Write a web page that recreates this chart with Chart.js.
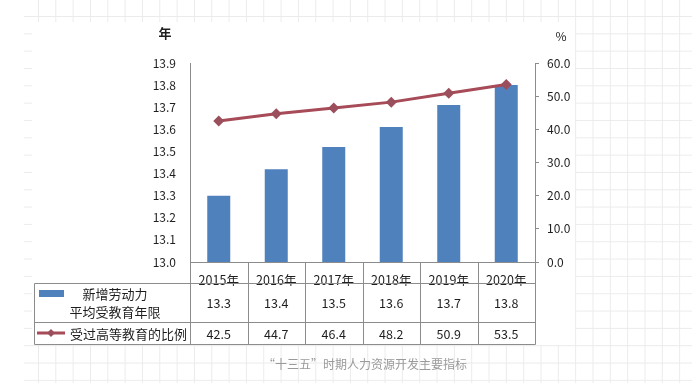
<!DOCTYPE html>
<html><head><meta charset="utf-8">
<script src="https://cdn.jsdelivr.net/npm/chart.js@4.4.0/dist/chart.umd.min.js"></script>
<style>
html,body{margin:0;padding:0;background:#fff;}
#wrap{position:relative;width:692px;height:383px;overflow:hidden;background:#fff;}
#grid{position:absolute;left:24px;top:0;width:668px;height:383px;
 background-image:linear-gradient(to right,#ebebeb 1px,transparent 1px),linear-gradient(to bottom,#ebebeb 1px,transparent 1px);
 background-size:17.333px 17.333px;background-position:14px 16px;}
#paper{position:absolute;left:32px;top:22px;width:543px;height:323px;background:#fff;}
canvas{position:absolute;left:0;top:0;}
#cap{position:absolute;left:263px;top:356px;line-height:16px;font-size:12px;color:#9a9a9a;
 font-family:'Noto Sans CJK SC','Noto Sans',sans-serif;white-space:nowrap;}
</style></head>
<body>
<div id="wrap">
<div id="grid"></div>
<div id="paper"></div>
<canvas id="c" width="692" height="383"></canvas>
<div id="cap"></div>
</div>
<script>
const categories = ['2015年','2016年','2017年','2018年','2019年','2020年'];
// bar heights (table shows them to one decimal)
const eduYears = [13.30, 13.42, 13.52, 13.61, 13.71, 13.80];
const higherEduPct = [42.5, 44.7, 46.4, 48.2, 50.9, 53.5];
const barSeriesName = ['新增劳动力', '平均受教育年限'];
const lineSeriesName = '受过高等教育的比例';
const leftAxis = [13.0, 13.9, 0.1];   // min, max, step
const rightAxis = [0, 60, 10];       // min, max, step
const axisUnits = ['年', '%'];
const captionText = '“十三五”时期人力资源开发主要指标';

document.getElementById('cap').textContent = captionText;

const FONT = "'Noto Sans CJK SC','Noto Sans',sans-serif";
const BAR_COLOR = '#4F81BD';
const LINE_COLOR = '#A64B57';
const MARK_COLOR = '#9B4E5B';
const RULE = '#8c8c8c';
const TXT = '#1e1e1e';

Chart.defaults.font.family = FONT;
Chart.defaults.color = TXT;

function px(v){ return Math.round(v) + 0.5; }

const tablePlugin = {
  id: 'tablePlugin',
  afterDraw(chart) {
    const ctx = chart.ctx, xs = chart.scales.x, ca = chart.chartArea;
    const n = categories.length;
    const cw = xs.getPixelForValue(1) - xs.getPixelForValue(0);
    const x0 = xs.getPixelForValue(0) - cw / 2;
    const left = 34, r0 = ca.bottom, r1 = 283, r2 = 322, r3 = 344;
    ctx.save();
    ctx.strokeStyle = RULE; ctx.lineWidth = 1;
    const ln = (a, b, c, d) => { ctx.beginPath(); ctx.moveTo(a, b); ctx.lineTo(c, d); ctx.stroke(); };
    ln(px(ca.left), px(r0), px(ca.right), px(r0));
    [r1, r2, r3].forEach(r => ln(px(left), px(r), px(ca.right), px(r)));
    for (let i = 0; i <= n; i++) { const bx = px(x0 + i * cw); ln(bx, px(r0), bx, px(r3)); }
    ln(px(left), px(r1), px(left), px(r3));

    // values
    ctx.fillStyle = TXT; ctx.textAlign = 'center'; ctx.textBaseline = 'middle';
    ctx.font = '12.5px ' + FONT;
    for (let i = 0; i < n; i++) {
      const cx = xs.getPixelForValue(i);
      ctx.fillText(eduYears[i].toFixed(1), cx, (r1 + r2) / 2 + 1);
      ctx.fillText(higherEduPct[i].toFixed(1), cx, (r2 + r3) / 2 + 1);
    }
    // legend keys
    ctx.fillStyle = BAR_COLOR;
    ctx.fillRect(39, 290, 25, 7);
    ctx.strokeStyle = LINE_COLOR; ctx.lineWidth = 3;
    ln(37, 333, 65, 333);
    ctx.fillStyle = MARK_COLOR;
    ctx.beginPath(); ctx.moveTo(51, 329); ctx.lineTo(55, 333); ctx.lineTo(51, 337); ctx.lineTo(47, 333); ctx.closePath(); ctx.fill();
    // legend text
    ctx.fillStyle = TXT; ctx.font = '13px ' + FONT;
    ctx.fillText(barSeriesName[0], 115, 294);
    ctx.fillText(barSeriesName[1], 115, 312);
    ctx.textAlign = 'left';
    ctx.fillText(lineSeriesName, 70, 334);
    // units
    ctx.textAlign = 'center';
    ctx.font = 'bold 13px ' + FONT;
    ctx.fillText(axisUnits[0], 165, 33);
    ctx.font = '12px ' + FONT;
    ctx.fillText(axisUnits[1], 561, 36);
    ctx.restore();
  }
};

new Chart(document.getElementById('c'), {
  data: {
    labels: categories,
    datasets: [
      {
        type: 'line', label: lineSeriesName, data: higherEduPct, yAxisID: 'y1',
        borderColor: LINE_COLOR, borderWidth: 3, backgroundColor: MARK_COLOR,
        pointStyle: 'rectRot', pointRadius: 5.5, pointBorderWidth: 0,
        pointBackgroundColor: MARK_COLOR, tension: 0, fill: false
      },
      {
        type: 'bar', label: barSeriesName.join(''), data: eduYears, yAxisID: 'y',
        backgroundColor: BAR_COLOR, categoryPercentage: 1, barPercentage: 0.4
      }
    ]
  },
  options: {
    responsive: false, animation: false, devicePixelRatio: 1, events: [],
    layout: { padding: { top: 63, left: 0, right: 0, bottom: 0 } },
    plugins: { legend: { display: false }, tooltip: { enabled: false } },
    scales: {
      x: {
        offset: true,
        grid: { display: false },
        border: { display: false },
        ticks: { padding: 3, maxRotation: 0, autoSkip: false, color: TXT, font: { size: 12.5 } },
        afterFit(s) { s.height = 121; }
      },
      y: {
        position: 'left', min: leftAxis[0], max: leftAxis[1],
        grid: { drawOnChartArea: false, drawTicks: false, color: RULE },
        border: { display: true, color: RULE, width: 1 },
        ticks: { stepSize: leftAxis[2], padding: 14, color: TXT, font: { size: 12 },
                 callback: v => Number(v).toFixed(1) },
        afterFit(s) { s.width = 190; }
      },
      y1: {
        position: 'right', min: rightAxis[0], max: rightAxis[1],
        grid: { drawOnChartArea: false, drawTicks: true, tickLength: 4, color: RULE },
        border: { display: true, color: RULE, width: 1 },
        ticks: { stepSize: rightAxis[2], padding: 8, color: TXT, font: { size: 12 },
                 callback: v => Number(v).toFixed(1) },
        afterFit(s) { s.width = 157; }
      }
    }
  },
  plugins: [tablePlugin]
});
</script>
</body></html>
